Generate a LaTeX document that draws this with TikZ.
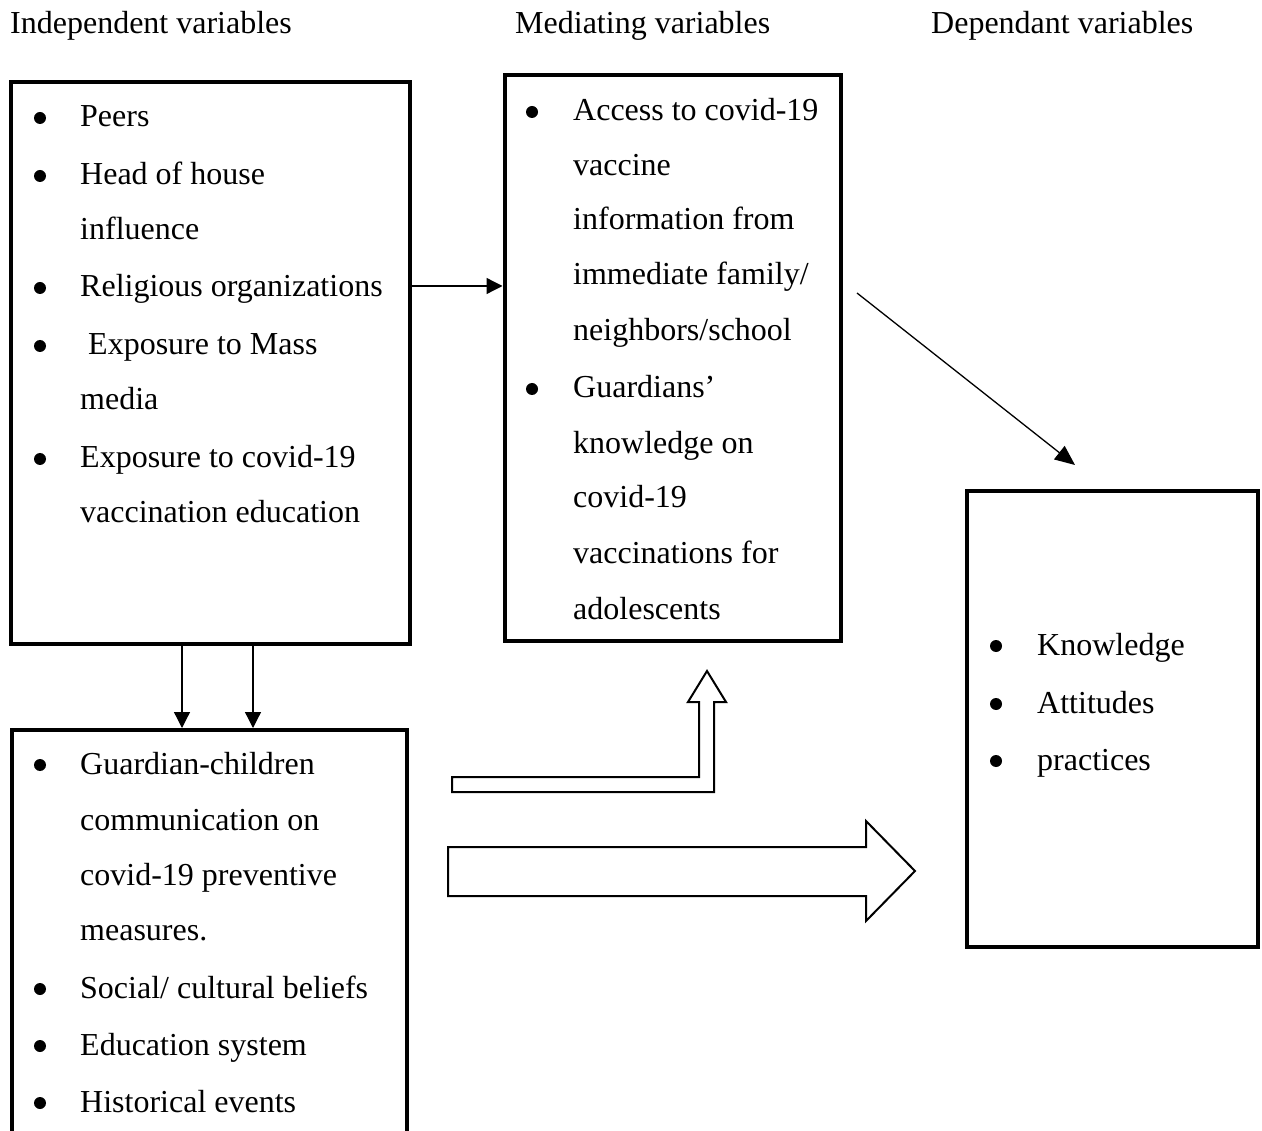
\documentclass[tikz,border=0pt]{standalone}
\usepackage{fontspec}
\setmainfont{Liberation Serif}
\usetikzlibrary{arrows.meta}
\begin{document}
\begin{tikzpicture}[x=1pt,y=-1pt,
 txt/.style={anchor=base west, inner sep=0pt, yshift=-2pt, font=\fontsize{32}{38}\selectfont},
 box/.style={draw, line width=4pt, inner sep=0pt},
 conn/.style={line width=1.3pt, -{Triangle[length=16pt,width=16pt]}},
 hollow/.style={draw, line width=2pt, fill=white, line join=miter},
 bul/.style={circle, fill=black, inner sep=0pt, minimum size=12pt, yshift=-2pt}]
\clip (0,0) rectangle (1262,1131);
\fill[white] (0,0) rectangle (1262,1131);

% headers
\node[txt] (h1) at (10,32) {Independent variables};
\node[txt] (h2) at (515,32) {Mediating variables};
\node[txt] (h3) at (931,32) {Dependant variables};

% boxes
\node[box, minimum width=398.5pt, minimum height=562pt] (A) at (210.25,363) {};
\node[box, minimum width=336pt, minimum height=565.5pt] (B) at (672.5,358.25) {};
\node[box, minimum width=395.5pt, minimum height=430pt] (C) at (209.25,945) {};
\node[box, minimum width=291pt, minimum height=456pt] (D) at (1112.5,719) {};

% box A
\node[bul] (ba1) at (40,116) {};
\node[txt] (a1) at (80,125) {Peers};
\node[bul] (ba2) at (40,174) {};
\node[txt] (a2) at (80,183) {Head of house};
\node[txt] (a3) at (80,238) {influence};
\node[bul] (ba3) at (40,286) {};
\node[txt] (a4) at (80,295) {Religious organizations};
\node[bul] (ba4) at (40,344) {};
\node[txt] (a5) at (88,353) {Exposure to Mass};
\node[txt] (a6) at (80,408) {media};
\node[bul] (ba5) at (40,457) {};
\node[txt] (a7) at (80,466) {Exposure to covid-19};
\node[txt] (a8) at (80,521) {vaccination education};

% box B
\node[bul] (bb1) at (532,110) {};
\node[txt] (b1) at (573,119) {Access to covid-19};
\node[txt] (b2) at (573,174) {vaccine};
\node[txt] (b3) at (573,228) {information from};
\node[txt] (b4) at (573,283) {immediate family/};
\node[txt] (b5) at (573,339) {neighbors/school};
\node[bul] (bb2) at (532,387) {};
\node[txt] (b6) at (573,396) {Guardians’};
\node[txt] (b7) at (573,452) {knowledge on};
\node[txt] (b8) at (573,506) {covid-19};
\node[txt] (b9) at (573,562) {vaccinations for};
\node[txt] (b10) at (573,617) {adolescents};

% box C
\node[bul] (bc1) at (40,763) {};
\node[txt] (c1) at (80,772) {Guardian-children};
\node[txt] (c2) at (80,828) {communication on};
\node[txt] (c3) at (80,883) {covid-19 preventive};
\node[txt] (c4) at (80,938) {measures.};
\node[bul] (bc2) at (40,987) {};
\node[txt] (c5) at (80,996) {Social/ cultural beliefs};
\node[bul] (bc3) at (40,1044) {};
\node[txt] (c6) at (80,1053) {Education system};
\node[bul] (bc4) at (40,1101) {};
\node[txt] (c7) at (80,1110) {Historical events};

% box D
\node[bul] (bd1) at (996,644) {};
\node[txt] (d1) at (1037,653) {Knowledge};
\node[bul] (bd2) at (996,702) {};
\node[txt] (d2) at (1037,711) {Attitudes};
\node[bul] (bd3) at (996,759) {};
\node[txt] (d3) at (1037,768) {practices};

% connectors
\draw[conn] (A.east |- 0,286) -- (B.west |- 0,286);
\draw[conn] (A.south -| 182,0) -- (C.north -| 182,0);
\draw[conn] (A.south -| 253,0) -- (C.north -| 253,0);
\coordinate (g1) at (857,293);
\coordinate (g2) at (1075,465);
\draw[line width=1.3pt, -{Triangle[length=20pt,width=17pt]}] (g1) -- (g2);

% hollow arrows
\path[hollow] (452,777) -- (699,777) -- (699,702) -- (688,702) -- (707,671)
  -- (726,702) -- (714,702) -- (714,792) -- (452,792) -- cycle;
\path[hollow] (448,847) -- (866,847) -- (866,821) -- (915,871) -- (866,921)
  -- (866,896) -- (448,896) -- cycle;
\end{tikzpicture}
\end{document}
